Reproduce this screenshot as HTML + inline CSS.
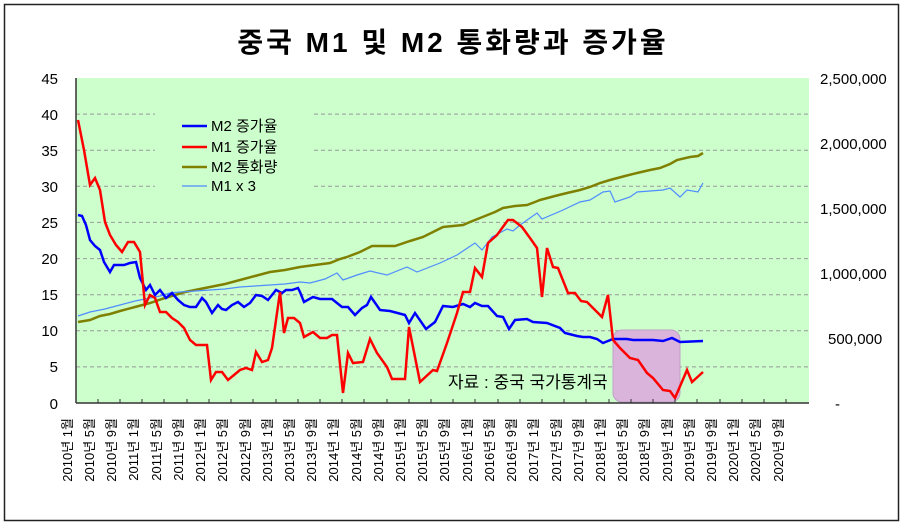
<!DOCTYPE html>
<html><head><meta charset="utf-8"><style>
body{margin:0;background:#fff;}
svg text{font-family:"Liberation Sans","Noto Sans CJK KR",sans-serif;}
</style></head><body>
<svg width="907" height="525" viewBox="0 0 907 525" xmlns="http://www.w3.org/2000/svg">
<rect x="0" y="0" width="907" height="525" fill="#fff"/>
<rect x="4.5" y="4.5" width="894" height="516" fill="#fff" stroke="#222" stroke-width="1.5"/>
<text x="453" y="52" text-anchor="middle" font-size="28" font-weight="bold" letter-spacing="3">중국 M1 및 M2 통화량과 증가율</text>
<rect x="76" y="78" width="733" height="325" fill="#ccffcc"/>
<g stroke="#999" stroke-dasharray="4,3" stroke-width="1">
<line x1="76" x2="809" y1="114.1" y2="114.1"/><line x1="76" x2="809" y1="150.2" y2="150.2"/>
<line x1="76" x2="809" y1="186.3" y2="186.3"/><line x1="76" x2="809" y1="222.4" y2="222.4"/>
<line x1="76" x2="809" y1="258.6" y2="258.6"/><line x1="76" x2="809" y1="294.7" y2="294.7"/>
<line x1="76" x2="809" y1="330.8" y2="330.8"/><line x1="76" x2="809" y1="366.9" y2="366.9"/>
</g>
<rect x="155" y="108" width="157" height="88" fill="#ccffcc"/>
<rect x="613" y="330" width="67" height="72" rx="9" fill="#dbb4dc" stroke="#c0a0c8" stroke-width="1"/>
<text x="448" y="388" font-size="17">자료 : 중국 국가통계국</text>
<polyline fill="none" stroke="#808000" stroke-width="2.5" points="78,322 90,320 100,316 110,314 120,311 135,307 150,303 165,298 185,292 200,289 210,287 225,284 240,280 255,276 270,272 285,270 300,267 315,265 330,263 340,259 347,257 360,252 372,246 385,246 395,246 410,241 423,237 435,231 443,227 463,225 470,222 480,218 495,212 503,208 515,206 527,205 535,202 540,200 555,196 567,193 580,190 590,187 600,183 610,180 625,176 637,173 650,170 660,168 670,164 677,160 690,157 698,156 703,153"/>
<polyline fill="none" stroke="#4f8cff" stroke-width="1.2" points="78,316 90,312 105,309 120,305 135,301 150,298 160,296 170,293 180,292 195,291 210,290 225,289 240,287 255,286 270,285 285,284 300,282 310,283 325,279 337,273 343,280 357,275 370,271 387,275 407,267 417,272 440,263 457,255 475,243 482,250 492,237 507,229 513,231 520,225 537,213 542,219 563,210 580,202 590,200 603,192 610,191 615,202 630,197 637,192 663,190 670,188 680,197 687,190 698,192 703,183"/>
<polyline fill="none" stroke="#0000ff" stroke-width="2.5" points="78,215 82,216 86,225 90,240 95,246 100,250 104,262 110,272 114,265 118,265 124,265 130,263 136,262 140,278 146,290 150,285 155,295 160,290 166,298 172,293 178,300 184,305 190,307 196,307 202,298 206,302 212,313 218,305 222,309 226,310 232,305 238,302 244,307 250,303 256,295 262,296 268,300 276,290 282,293 286,290 292,290 298,288 300,292 304,302 313,297 320,299 332,299 342,307 348,307 355,315 362,308 367,305 371,297 380,310 390,311 405,315 409,323 415,313 426,329 435,322 443,306 453,307 463,304 470,307 475,303 482,306 488,306 497,316 503,317 509,329 515,320 527,319 533,322 547,323 560,328 565,333 577,336 583,337 590,337 597,339 603,343 613,339 627,339 633,340 643,340 653,340 663,341 672,338 680,342 703,341"/>
<polyline fill="none" stroke="#ff0000" stroke-width="2.5" points="78,120 84,150 90,185 95,178 100,190 105,222 110,235 116,245 122,252 128,242 134,242 140,252 145,305 150,295 155,298 160,312 166,312 172,318 178,322 184,328 190,340 196,345 202,345 207,345 211,380 216,372 222,372 228,380 234,375 240,370 246,368 252,370 256,352 262,362 268,360 272,348 276,320 280,292 284,333 288,318 294,318 300,323 304,337 313,332 320,338 327,338 332,335 337,335 343,393 348,353 353,363 363,362 370,339 377,353 387,367 392,379 405,379 409,327 420,382 433,370 437,371 447,343 457,313 463,292 470,292 475,268 482,277 488,243 497,235 508,220 513,220 522,227 530,238 537,248 542,297 547,248 553,267 558,268 568,293 575,293 581,301 587,302 593,308 602,317 608,295 613,340 620,348 630,358 638,360 647,373 653,378 663,390 670,391 675,398 687,370 692,382 703,372"/>
<line x1="76" y1="403" x2="809" y2="403" stroke="#333" stroke-width="1.5"/>
<line x1="76" y1="78" x2="76" y2="403" stroke="#333" stroke-width="1.5"/>
<g stroke="#333" stroke-width="1">
<line x1="98" x2="98" y1="403" y2="399"/><line x1="120" x2="120" y1="403" y2="399"/><line x1="142" x2="142" y1="403" y2="399"/><line x1="164" x2="164" y1="403" y2="399"/><line x1="187" x2="187" y1="403" y2="399"/><line x1="209" x2="209" y1="403" y2="399"/><line x1="231" x2="231" y1="403" y2="399"/><line x1="253" x2="253" y1="403" y2="399"/><line x1="276" x2="276" y1="403" y2="399"/><line x1="298" x2="298" y1="403" y2="399"/><line x1="320" x2="320" y1="403" y2="399"/><line x1="342" x2="342" y1="403" y2="399"/><line x1="364" x2="364" y1="403" y2="399"/><line x1="387" x2="387" y1="403" y2="399"/><line x1="409" x2="409" y1="403" y2="399"/><line x1="431" x2="431" y1="403" y2="399"/><line x1="453" x2="453" y1="403" y2="399"/><line x1="475" x2="475" y1="403" y2="399"/><line x1="498" x2="498" y1="403" y2="399"/><line x1="520" x2="520" y1="403" y2="399"/><line x1="542" x2="542" y1="403" y2="399"/><line x1="564" x2="564" y1="403" y2="399"/><line x1="586" x2="586" y1="403" y2="399"/><line x1="609" x2="609" y1="403" y2="399"/><line x1="631" x2="631" y1="403" y2="399"/><line x1="653" x2="653" y1="403" y2="399"/><line x1="675" x2="675" y1="403" y2="399"/><line x1="697" x2="697" y1="403" y2="399"/><line x1="720" x2="720" y1="403" y2="399"/><line x1="742" x2="742" y1="403" y2="399"/><line x1="764" x2="764" y1="403" y2="399"/><line x1="786" x2="786" y1="403" y2="399"/>
</g>
<g font-size="15" text-anchor="end">
<text x="58" y="84">45</text><text x="58" y="120">40</text><text x="58" y="156">35</text><text x="58" y="192">30</text><text x="58" y="228">25</text><text x="58" y="264">20</text><text x="58" y="300">15</text><text x="58" y="336">10</text><text x="58" y="372">5</text><text x="58" y="409">0</text>
</g>
<g font-size="15" text-anchor="start">
<text x="820" y="84">2,500,000</text><text x="820" y="149">2,000,000</text><text x="820" y="214">1,500,000</text><text x="820" y="279">1,000,000</text><text x="828" y="344">500,000</text><text x="835" y="409">-</text>
</g>
<g font-size="13" text-anchor="end">
<text transform="translate(72,418) rotate(-90)">2010년 1월</text>
<text transform="translate(94,418) rotate(-90)">2010년 5월</text>
<text transform="translate(116,418) rotate(-90)">2010년 9월</text>
<text transform="translate(138,418) rotate(-90)">2011년 1월</text>
<text transform="translate(161,418) rotate(-90)">2011년 5월</text>
<text transform="translate(183,418) rotate(-90)">2011년 9월</text>
<text transform="translate(205,418) rotate(-90)">2012년 1월</text>
<text transform="translate(227,418) rotate(-90)">2012년 5월</text>
<text transform="translate(250,418) rotate(-90)">2012년 9월</text>
<text transform="translate(272,418) rotate(-90)">2013년 1월</text>
<text transform="translate(294,418) rotate(-90)">2013년 5월</text>
<text transform="translate(316,418) rotate(-90)">2013년 9월</text>
<text transform="translate(338,418) rotate(-90)">2014년 1월</text>
<text transform="translate(361,418) rotate(-90)">2014년 5월</text>
<text transform="translate(383,418) rotate(-90)">2014년 9월</text>
<text transform="translate(405,418) rotate(-90)">2015년 1월</text>
<text transform="translate(427,418) rotate(-90)">2015년 5월</text>
<text transform="translate(449,418) rotate(-90)">2015년 9월</text>
<text transform="translate(472,418) rotate(-90)">2016년 1월</text>
<text transform="translate(494,418) rotate(-90)">2016년 5월</text>
<text transform="translate(516,418) rotate(-90)">2016년 9월</text>
<text transform="translate(538,418) rotate(-90)">2017년 1월</text>
<text transform="translate(561,418) rotate(-90)">2017년 5월</text>
<text transform="translate(583,418) rotate(-90)">2017년 9월</text>
<text transform="translate(605,418) rotate(-90)">2018년 1월</text>
<text transform="translate(627,418) rotate(-90)">2018년 5월</text>
<text transform="translate(649,418) rotate(-90)">2018년 9월</text>
<text transform="translate(672,418) rotate(-90)">2019년 1월</text>
<text transform="translate(694,418) rotate(-90)">2019년 5월</text>
<text transform="translate(716,418) rotate(-90)">2019년 9월</text>
<text transform="translate(738,418) rotate(-90)">2020년 1월</text>
<text transform="translate(760,418) rotate(-90)">2020년 5월</text>
<text transform="translate(783,418) rotate(-90)">2020년 9월</text>
</g>
<g font-size="15">
<line x1="182" y1="126" x2="207" y2="126" stroke="#0000ff" stroke-width="2.5"/><text x="211" y="131">M2 증가율</text>
<line x1="182" y1="147" x2="207" y2="147" stroke="#ff0000" stroke-width="2.5"/><text x="211" y="152">M1 증가율</text>
<line x1="182" y1="167" x2="207" y2="167" stroke="#808000" stroke-width="2.5"/><text x="211" y="172">M2 통화량</text>
<line x1="182" y1="186" x2="207" y2="186" stroke="#4f8cff" stroke-width="1.2"/><text x="211" y="191">M1 x 3</text>
</g>
</svg>
</body></html>
